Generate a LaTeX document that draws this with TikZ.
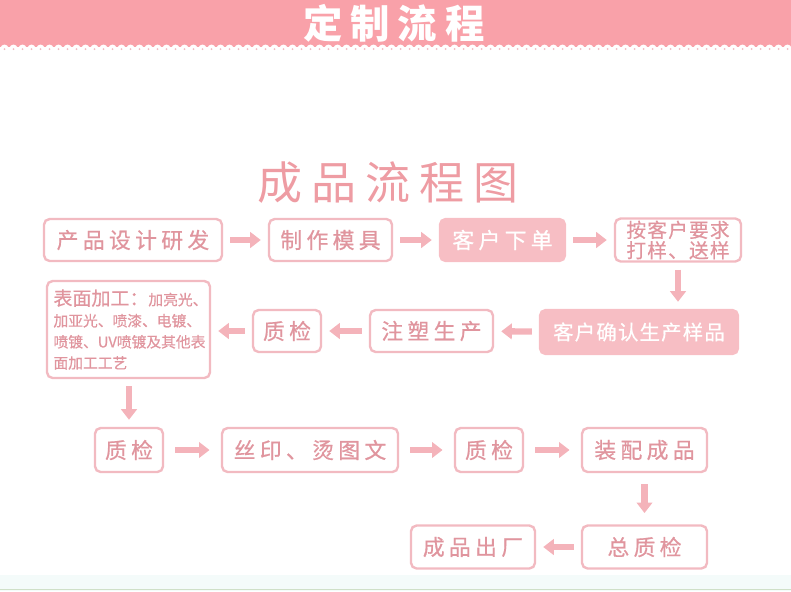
\documentclass[tikz,border=0pt]{standalone}
\usepackage{fontspec}
\usetikzlibrary{arrows.meta}
\newfontfamily\cjk{Noto Sans CJK SC}[FakeBold=0.6]
\newfontfamily\cjkweit{Noto Sans CJK SC}[LetterSpace=20,FakeBold=0.7]
\newfontfamily\cjkeng{Noto Sans CJK SC}[LetterSpace=6,FakeBold=0.6]
\newfontfamily\cjkkopf{Noto Sans CJK SC}[LetterSpace=20]
\definecolor{rosa}{HTML}{F9A1A9}
\definecolor{rahmen}{HTML}{F2BAC1}
\definecolor{schrift}{HTML}{E0959E}
\definecolor{fuell}{HTML}{F7BEC4}
\definecolor{pfeilfarbe}{HTML}{F4B3BA}
\definecolor{titel}{HTML}{EE9CA3}
\definecolor{unten}{HTML}{F4FBFA}
\definecolor{gruen}{HTML}{CFE0C8}

\def\h{0.025}
\def\punkt#1#2{
	({(#1)*\h},{(-#2)*\h})
}

\begin{document}
\begin{tikzpicture}[
	kasten/.style={draw=rahmen,line width=1.7pt,rounded corners=4pt,text=schrift,
		inner sep=0pt,font=\cjkweit\fontsize{15.5}{18}\selectfont},
	voll/.style={kasten,fill=fuell,draw=fuell,text=white},
	wh/.style 2 args={minimum width={#1*\h cm},minimum height={#2*\h cm}},
	pfeil/.style={draw=pfeilfarbe,line width=4.5pt,
		-{Triangle[length=7.5pt,width=11pt]},shorten <=5pt,shorten >=5pt},
	weit/.style={shorten <=8pt,shorten >=8pt}
]
\useasboundingbox (0,0) rectangle \punkt{791}{591};
% Kopfband
\fill[color=rosa] (0,0) rectangle \punkt{791}{47};
\foreach \x in {0,9,...,790}{
	\fill[white] \punkt{\x+4.5}{48.5} circle (0.1);
	\fill[color=rahmen] \punkt{\x+4.5}{49} circle (0.025);
}
\node[text=white,font=\cjkkopf\bfseries\fontsize{28}{30}\selectfont] (kopf)
	at \punkt{394}{23} {定制流程};
\node[text=titel,font=\cjkkopf\fontsize{32}{36}\selectfont] (titel)
	at \punkt{388}{183} {成品流程图};
% Fussband
\fill[color=unten] \punkt{0}{575} rectangle \punkt{791}{591};
\draw[color=gruen,line width=0.8pt] \punkt{0}{589.5} -- \punkt{791}{589.5};

% erste Reihe
\node[kasten,wh={178}{42}] (entwurf) at \punkt{133}{240} {产品设计研发};
\node[kasten,wh={123}{42}] (form) at \punkt{330.5}{240} {制作模具};
\node[voll,wh={125}{42}] (auftrag) at \punkt{502.5}{240} {客户下单};
\node[kasten,wh={126}{43},align=center,
	font=\cjkeng\fontsize{14}{14.5}\selectfont] (muster) at \punkt{678}{240}
	{按客户要求\\打样、送样};
% zweite Reihe
\node[voll,wh={198}{44},font=\cjkeng\fontsize{14.5}{16}\selectfont] (bestaetigt)
	at \punkt{639}{332} {客户确认生产样品};
\node[kasten,wh={123}{42}] (spritz) at \punkt{431.5}{331} {注塑生产};
\node[kasten,wh={68}{42}] (pruefa) at \punkt{287}{331} {质检};
\node[kasten,wh={163}{97},text width={150*\h cm},align=left,
	font=\cjk\fontsize{10.5}{15}\selectfont] (flaeche) at \punkt{128.5}{329.5}
	{{\fontsize{13.5}{15}\selectfont 表面加工：}加亮光、\\
	加亚光、喷漆、电镀、\\
	喷镀、UV喷镀及其他表\\
	面加工工艺};
% dritte Reihe
\node[kasten,wh={68}{44}] (pruefb) at \punkt{129}{450} {质检};
\node[kasten,wh={176}{44}] (druck) at \punkt{310}{450} {丝印、烫图文};
\node[kasten,wh={68}{44}] (pruefc) at \punkt{489}{450} {质检};
\node[kasten,wh={125}{44}] (montage) at \punkt{644.5}{450} {装配成品};
% vierte Reihe
\node[kasten,wh={125}{43}] (endpruef) at \punkt{644.5}{547} {总质检};
\node[kasten,wh={124}{43}] (fertig) at \punkt{473}{547} {成品出厂};

\draw[pfeil] (entwurf) -- (form);
\draw[pfeil] (form) -- (auftrag);
\draw[pfeil] (auftrag) -- (muster);
\draw[pfeil] (muster) -- (bestaetigt.north -| muster);
\draw[pfeil] (bestaetigt) -- (spritz);
\draw[pfeil] (spritz) -- (pruefa);
\draw[pfeil] (pruefa) -- (flaeche.east |- pruefa);
\draw[pfeil] (flaeche.south -| pruefb) -- (pruefb);
\draw[pfeil,weit] (pruefb) -- (druck);
\draw[pfeil,weit] (druck) -- (pruefc);
\draw[pfeil,weit] (pruefc) -- (montage);
\draw[pfeil,weit] (montage) -- (endpruef);
\draw[pfeil] (endpruef) -- (fertig);
\end{tikzpicture}
\end{document}
